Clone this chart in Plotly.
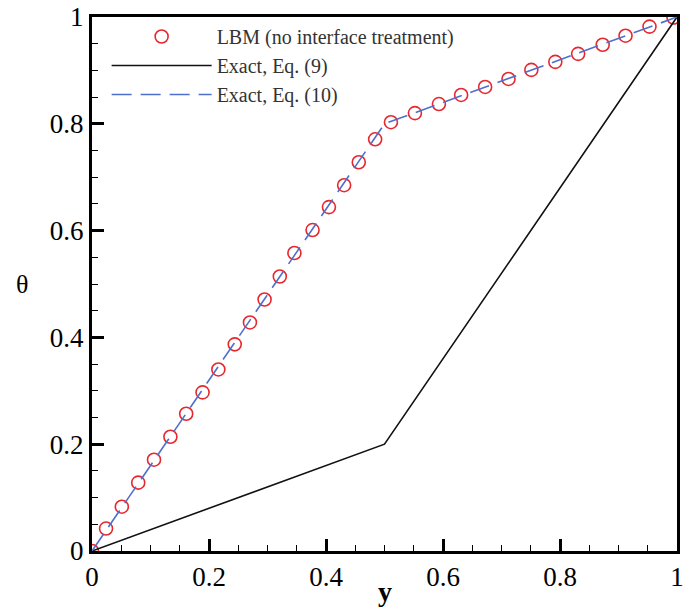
import plotly.graph_objects as go

# LBM data (no interface treatment)
lbm_y = [0.0, 0.024, 0.051, 0.079, 0.106, 0.134, 0.161, 0.189, 0.216, 0.244,
         0.270, 0.295, 0.321, 0.346, 0.377, 0.405, 0.431, 0.456, 0.484, 0.511,
         0.552, 0.593, 0.631, 0.672, 0.712, 0.751, 0.792, 0.831, 0.873, 0.912,
         0.953, 0.994]
lbm_theta = [0.0, 0.042, 0.083, 0.128, 0.171, 0.214, 0.257, 0.297, 0.340, 0.387,
             0.428, 0.471, 0.514, 0.558, 0.601, 0.644, 0.685, 0.728, 0.771, 0.803,
             0.820, 0.837, 0.854, 0.869, 0.884, 0.901, 0.916, 0.931, 0.948, 0.965,
             0.982, 0.999]

# Exact, Eq. (9)
eq9_y = [0.0, 0.5, 1.0]
eq9_theta = [0.0, 0.2, 1.0]

# Exact, Eq. (10)
eq10_y = [0.0, 0.5, 1.0]
eq10_theta = [0.0, 0.8, 1.0]

tick_vals = [0, 0.2, 0.4, 0.6, 0.8, 1]
tick_text = ["0", "0.2", "0.4", "0.6", "0.8", "1"]

FONT = "Liberation Serif"

fig = go.Figure()
fig.add_trace(go.Scatter(
    x=lbm_y, y=lbm_theta, mode="markers", name="LBM (no interface treatment)",
    marker=dict(symbol="circle-open", size=13, color="#e8262e", line=dict(width=1.6)),
))
fig.add_trace(go.Scatter(
    x=eq9_y, y=eq9_theta, mode="lines", name="Exact, Eq. (9)",
    line=dict(color="#111111", width=1.6),
))
fig.add_trace(go.Scatter(
    x=eq10_y, y=eq10_theta, mode="lines", name="Exact, Eq. (10)",
    line=dict(color="#4f6fcc", width=1.6, dash="20px,9px"),
))

axis_common = dict(
    range=[0, 1], tickvals=tick_vals, ticktext=tick_text,
    ticks="inside", ticklen=12, tickwidth=3, tickcolor="black",
    showline=True, linecolor="black", linewidth=3, mirror=True,
    showgrid=False, zeroline=False, automargin=False,
    tickfont=dict(family=FONT, size=27, color="black"),
    minor=dict(dtick=0.05, ticks="inside", ticklen=6, tickwidth=1, tickcolor="black"),
)

fig.update_layout(
    width=688, height=610,
    margin=dict(l=92, r=11, t=17, b=59),
    paper_bgcolor="white", plot_bgcolor="white",
    xaxis=dict(**axis_common, ticklabelstandoff=0),
    yaxis=dict(**axis_common),
    showlegend=True,
    legend=dict(
        x=0.025, y=1.0, xanchor="left", yanchor="top",
        bgcolor="rgba(0,0,0,0)", itemwidth=100,
        font=dict(family=FONT, size=20, color="#333333"),
        tracegroupgap=0, itemsizing="trace",
    ),
    annotations=[
        dict(text="<b>y</b>", xref="paper", yref="paper", x=0.5, y=-0.075,
             xanchor="center", yanchor="middle", showarrow=False,
             font=dict(family=FONT, size=28, color="black")),
        dict(text="θ", xref="paper", yref="paper", x=-0.12, y=0.5,
             xanchor="center", yanchor="middle", showarrow=False,
             font=dict(family=FONT, size=26, color="black")),
    ],
)

fig.write_html("out.html", config={"displayModeBar": False},
               post_script="document.body.style.margin='0';")
